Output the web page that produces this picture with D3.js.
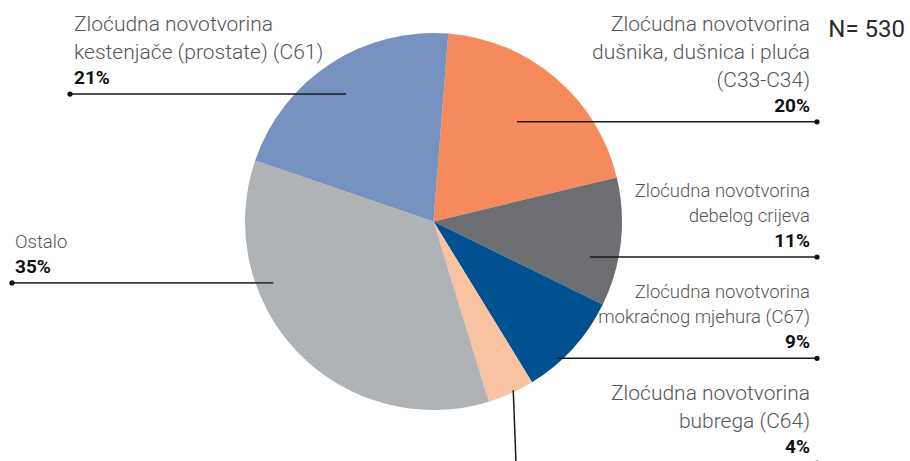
<!DOCTYPE html>
<html>
<head>
<meta charset="utf-8">
<script src="https://cdn.jsdelivr.net/npm/d3@7"></script>
<style>
  html, body { margin: 0; padding: 0; background: #fff; overflow: hidden; }
  svg { display: block; }
  .lbl { font-family: Roboto, "Open Sans", sans-serif; font-weight: 300; fill: #555; }
  .pct { font-family: Roboto, "Open Sans", sans-serif; font-weight: 700; fill: #111; }
  .total { font-family: Roboto, "Open Sans", sans-serif; font-weight: 400; fill: #2b2b2b; }
</style>
</head>
<body>
<svg id="chart" width="910" height="461"></svg>
<script>
// Pie of cancer sites, N = 530. Slices run clockwise from just right of 12 o'clock.

const categories = [
  "Zloćudna novotvorina dušnika, dušnica i pluća (C33-C34)",
  "Zloćudna novotvorina debelog crijeva",
  "Zloćudna novotvorina mokraćnog mjehura (C67)",
  "Zloćudna novotvorina bubrega (C64)",
  "Ostalo",
  "Zloćudna novotvorina kestenjače (prostate) (C61)",
];

// label text broken the way the picture breaks it
const labelLines = [
  ["Zloćudna novotvorina", "dušnika, dušnica i pluća", "(C33-C34)"],
  ["Zloćudna novotvorina", "debelog crijeva"],
  ["Zloćudna novotvorina", "mokraćnog mjehura (C67)"],
  ["Zloćudna novotvorina", "bubrega (C64)"],
  ["Ostalo"],
  ["Zloćudna novotvorina", "kestenjače (prostate) (C61)"],
];

const shares = [20, 11, 9, 4, 35, 21];   // percent
const totalLabel = "N= 530";

const colors = ["#f68a5d", "#6d6e72", "#00518f", "#f9c3a2", "#b0b3b6", "#7592c1"];

// where each leader starts inside the pie (angle clockwise from top, fraction of radius)
// and where its label sits
const labelLayout = [
  { deg: 40,    r: 0.69, side: "right", textX: 810, dotX: 817, size: 21,   step: 28 },
  { deg: 102.8, r: 0.85, side: "right", textX: 810, dotX: 817, size: 18.5, step: 25 },
  { deg: 137.8, r: 0.98, side: "right", textX: 810, dotX: 817, size: 18.5, step: 25 },
  { deg: 154.7, r: 0.99, side: "right", textX: 810, dotX: 817, size: 21,   step: 28, elbowX: 516, elbowY: 463 },
  { deg: 249,   r: 0.91, side: "left",  textX: 15,  dotX: 12,  size: 18.5, step: 25 },
  { deg: 325.5, r: 0.82, side: "left",  textX: 74,  dotX: 70,  size: 21,   step: 28 },
];

const cx = 433.5, cy = 221.5, radius = 188.5;
const startDeg = 4.5;

const svg = d3.select("#chart");
const rad = d => d * Math.PI / 180;

const pie = d3.pie()
  .sort(null)
  .value(d => d.value)
  .startAngle(rad(startDeg))
  .endAngle(rad(startDeg + 360));

const arc = d3.arc().innerRadius(0).outerRadius(radius);

const rows = categories.map((name, i) => ({ name, value: shares[i], i }));
const arcs = pie(rows);

const g = svg.append("g").attr("transform", `translate(${cx},${cy})`);
g.selectAll("path.slice")
  .data(arcs)
  .enter()
  .append("path")
  .attr("class", "slice")
  .attr("d", arc)
  .attr("fill", d => colors[d.data.i]);

// leaders + labels
const ann = svg.append("g");
arcs.forEach(d => {
  const i = d.data.i;
  const L = labelLayout[i];
  const ax = cx + L.r * radius * Math.sin(rad(L.deg));
  const ay = cy - L.r * radius * Math.cos(rad(L.deg));
  const lineY = L.elbowY != null ? L.elbowY : ay;

  const pts = L.elbowY != null
    ? [[ax, ay], [L.elbowX, L.elbowY], [L.dotX, L.elbowY]]
    : [[ax, ay], [L.dotX, ay]];

  ann.append("path")
    .attr("d", d3.line()(pts))
    .attr("fill", "none")
    .attr("stroke", i === 4 ? "#3a3a3a" : "#1a1a1a")
    .attr("stroke-width", i === 4 ? 1.8 : 1.5);

  ann.append("circle")
    .attr("cx", L.dotX)
    .attr("cy", lineY)
    .attr("r", 2.6)
    .attr("fill", "#111");

  const anchor = L.side === "right" ? "end" : "start";
  const pctY = lineY - 10;

  ann.append("text")
    .attr("class", "pct")
    .attr("x", L.textX)
    .attr("y", pctY)
    .attr("text-anchor", anchor)
    .style("font-size", "19px")
    .text(d3.format(".0f")(d.data.value) + "%");

  const lines = labelLines[i];
  lines.forEach((t, k) => {
    const fromBottom = lines.length - 1 - k;
    ann.append("text")
      .attr("class", "lbl")
      .attr("x", L.textX)
      .attr("y", pctY - 25 - fromBottom * L.step)
      .attr("text-anchor", anchor)
      .style("font-size", L.size + "px")
      .text(t);
  });
});

svg.append("text")
  .attr("class", "total")
  .attr("x", 905)
  .attr("y", 37)
  .attr("text-anchor", "end")
  .style("font-size", "24px")
  .text(totalLabel);
</script>
</body>
</html>
